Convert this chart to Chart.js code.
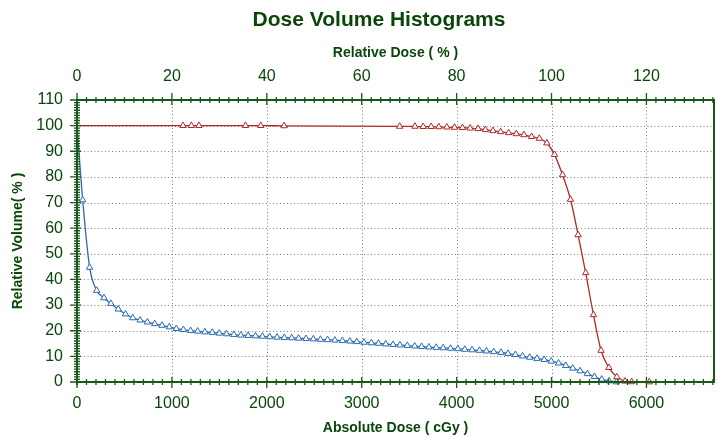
<!DOCTYPE html>
<html>
<head>
<meta charset="utf-8">
<script src="https://cdn.jsdelivr.net/npm/chart.js@4/dist/chart.umd.min.js"></script>
<style>
  body { margin: 0; background: #fff; }
  canvas { display: block; }
</style>
</head>
<body>
<canvas id="dvh" width="719" height="439"></canvas>
<script>
// target (red) and organ (blue) DVH points, dose in cGy, volume in %
var redDose = [0, 1117, 1205, 1285, 1775, 1936, 2182, 3400, 3561, 3648,
  3732, 3813, 3897, 3978, 4062, 4142, 4226, 4303, 4383, 4464,
  4548, 4629, 4709, 4790, 4871, 4951, 5031, 5116, 5200, 5280,
  5360, 5442, 5522, 5604, 5688, 5774, 5844, 6030];
var redVolume = [100, 100, 100, 100, 100, 100, 99.9, 99.7, 99.7, 99.6,
  99.6, 99.5, 99.4, 99.3, 99.2, 99.0, 98.8, 98.4, 98.0, 97.6,
  97.2, 96.8, 96.4, 95.7, 95.0, 93.2, 88.7, 80.8, 71.2, 57.4,
  42.6, 26.2, 12.3, 5.6, 2.0, 0.3, 0.05, 0];

var blueDose = [0, 60, 133, 207, 284, 357, 434, 511, 588, 665,
  742, 819, 896, 973, 1047, 1121, 1197, 1271, 1348, 1425,
  1499, 1576, 1652, 1726, 1803, 1880, 1954, 2030, 2108, 2185,
  2262, 2335, 2413, 2490, 2566, 2640, 2717, 2797, 2875, 2948,
  3025, 3102, 3176, 3253, 3330, 3403, 3480, 3558, 3631, 3708,
  3785, 3858, 3936, 4013, 4086, 4163, 4240, 4314, 4391, 4468,
  4541, 4619, 4695, 4769, 4846, 4923, 4997, 5074, 5150, 5224,
  5301, 5378, 5452, 5528, 5606, 5683];
var blueVolume = [100, 71, 44.7, 35.7, 32.8, 30.6, 28.4, 26.5, 25.0, 24.1,
  23.35, 22.7, 22.05, 21.45, 20.8, 20.4, 20.0, 19.8, 19.5, 19.3,
  19.0, 18.75, 18.5, 18.25, 18.1, 17.95, 17.8, 17.6, 17.45, 17.3,
  17.2, 17.05, 16.9, 16.75, 16.6, 16.45, 16.3, 16.1, 15.9, 15.7,
  15.45, 15.25, 15.05, 14.8, 14.6, 14.4, 14.2, 14.0, 13.8, 13.6,
  13.45, 13.3, 13.1, 12.95, 12.7, 12.5, 12.3, 12.05, 11.8, 11.5,
  11.1, 10.65, 10.1, 9.6, 9.15, 8.7, 8.1, 7.35, 6.4, 5.35,
  4.3, 3.2, 2.1, 1.05, 0.4, 0];

var doseTicks = [0, 1000, 2000, 3000, 4000, 5000, 6000];
var relTicks = [0, 20, 40, 60, 80, 100, 120];
var volumeTicks = [0, 10, 20, 30, 40, 50, 60, 70, 80, 90, 100, 110];

var prescribedDose = 5000;   // 100 % on the top axis
var doseMax = 6712;
var volumeMax = 110;

var textColor = '#0a460a';
var axisColor = '#175a17';
var font = '"Liberation Sans", Arial, sans-serif';

function points(xs, ys) {
  var out = [];
  for (var i = 0; i < xs.length; i++) out.push({ x: xs[i], y: ys[i] });
  return out;
}
function radii(n) {
  var r = [];
  for (var i = 0; i < n; i++) r.push(i == 0 ? 0 : 3.7);
  return r;
}

var dvhAxes = {
  id: 'dvhAxes',
  beforeDatasetsDraw: function(chart) {
    var ctx = chart.ctx, a = chart.chartArea;
    var x = chart.scales.x, y = chart.scales.y;
    ctx.save();
    ctx.strokeStyle = '#7d7d7d';
    ctx.lineWidth = 1;
    ctx.setLineDash([1, 2.5]);
    doseTicks.forEach(function(v) {
      if (v == 0) return;
      var px = Math.round(x.getPixelForValue(v)) + 0.5;
      ctx.beginPath(); ctx.moveTo(px, a.top); ctx.lineTo(px, a.bottom); ctx.stroke();
    });
    volumeTicks.forEach(function(v) {
      if (v == 0 || v == volumeMax) return;
      var py = Math.round(y.getPixelForValue(v)) + 0.5;
      ctx.beginPath(); ctx.moveTo(a.left, py); ctx.lineTo(a.right, py); ctx.stroke();
    });
    ctx.restore();
  },
  afterDatasetsDraw: function(chart) {
    var ctx = chart.ctx, a = chart.chartArea;
    var x = chart.scales.x, y = chart.scales.y, x2 = chart.scales.x2;
    ctx.save();
    ctx.strokeStyle = axisColor;

    // frame
    ctx.lineWidth = 2;
    ctx.beginPath();
    ctx.moveTo(a.left, a.top - 1); ctx.lineTo(a.left, a.bottom + 3);
    ctx.moveTo(a.left - 1, a.bottom); ctx.lineTo(a.right + 1, a.bottom);
    ctx.moveTo(a.left - 1, a.top); ctx.lineTo(a.right + 1, a.top);
    ctx.moveTo(a.right, a.top); ctx.lineTo(a.right, a.bottom);
    ctx.stroke();

    ctx.lineWidth = 1.3;
    ctx.beginPath();
    // bottom axis ticks, every 100 cGy
    for (var d = 0; d <= doseMax; d += 100) {
      var px = x.getPixelForValue(d);
      var major = d % 1000 == 0;
      ctx.moveTo(px, a.bottom - (major ? 5 : 3));
      ctx.lineTo(px, a.bottom + (major ? 6 : 3));
    }
    // top axis ticks, every 2 %
    for (var r = 0; r <= doseMax / prescribedDose * 100; r += 2) {
      var px2 = x2.getPixelForValue(r);
      var major2 = r % 20 == 0;
      ctx.moveTo(px2, a.top - (major2 ? 7 : 3));
      ctx.lineTo(px2, a.top + (major2 ? 5 : 3));
    }
    // left axis ticks, every 1 %
    for (var v = 0; v <= volumeMax; v += 1) {
      var py = y.getPixelForValue(v);
      var major3 = v % 10 == 0;
      ctx.moveTo(a.left - (major3 ? 7 : 3), py);
      ctx.lineTo(a.left + (major3 ? 4 : 3), py);
    }
    ctx.stroke();

    // tick labels
    ctx.fillStyle = textColor;
    ctx.textBaseline = 'middle';
    ctx.font = '16px ' + font;
    ctx.textAlign = 'center';
    doseTicks.forEach(function(v) {
      ctx.fillText(String(v), x.getPixelForValue(v), a.bottom + 22);
    });
    relTicks.forEach(function(v) {
      ctx.fillText(String(v), x2.getPixelForValue(v), a.top - 23);
    });
    ctx.textAlign = 'right';
    volumeTicks.forEach(function(v) {
      ctx.fillText(String(v), a.left - 14, y.getPixelForValue(v));
    });

    // axis titles
    ctx.font = 'bold 14px ' + font;
    ctx.textAlign = 'center';
    var cx = (a.left + a.right) / 2;
    ctx.fillText('Absolute Dose ( cGy )', cx, a.bottom + 46);
    ctx.fillText('Relative Dose ( % )', cx, a.top - 47);
    ctx.save();
    ctx.translate(18, (a.top + a.bottom) / 2);
    ctx.rotate(-Math.PI / 2);
    ctx.fillText('Relative Volume( % )', 0, 0);
    ctx.restore();

    // chart title
    ctx.font = 'bold 21px ' + font;
    ctx.fillText('Dose Volume Histograms', 379, 20);
    ctx.restore();
  }
};

var ctx = document.getElementById('dvh').getContext('2d');
var dvhChart = new Chart(ctx, {
  type: 'scatter',
  data: {
    datasets: [
      {
        label: 'Target',
        data: points(redDose, redVolume),
        showLine: true,
        borderColor: '#b02a2a',
        borderWidth: 1.3,
        pointStyle: 'triangle',
        pointRadius: radii(redDose.length),
        pointBorderColor: '#b02a2a',
        pointBackgroundColor: '#ffffff',
        pointBorderWidth: 1,
        cubicInterpolationMode: 'monotone',
        clip: false
      },
      {
        label: 'Organ',
        data: points(blueDose, blueVolume),
        showLine: true,
        borderColor: '#2c6aae',
        borderWidth: 1.3,
        pointStyle: 'triangle',
        pointRadius: radii(blueDose.length),
        pointBorderColor: '#2c6aae',
        pointBackgroundColor: '#ffffff',
        pointBorderWidth: 1,
        cubicInterpolationMode: 'monotone',
        clip: false
      }
    ]
  },
  options: {
    responsive: false,
    animation: false,
    layout: { padding: { left: 77, top: 100, right: 3, bottom: 57 } },
    plugins: {
      legend: { display: false },
      tooltip: { enabled: false },
      title: { display: false }
    },
    scales: {
      x: { type: 'linear', min: 0, max: doseMax, display: false },
      x2: { type: 'linear', axis: 'x', position: 'top', min: 0, max: doseMax / prescribedDose * 100, display: false },
      y: { type: 'linear', min: 0, max: volumeMax, display: false }
    }
  },
  plugins: [dvhAxes]
});
</script>
</body>
</html>
